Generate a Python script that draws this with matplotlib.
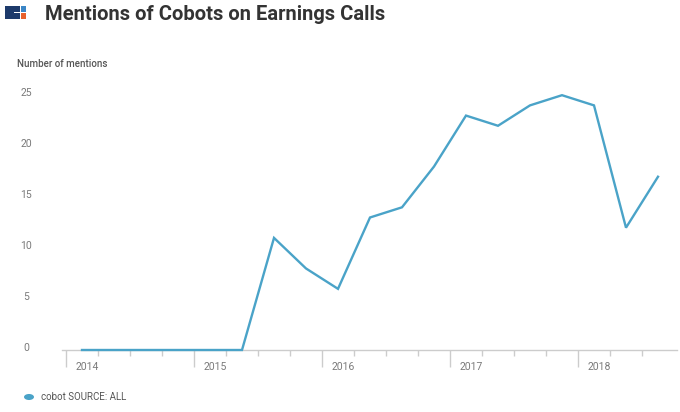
import numpy as np
import matplotlib
matplotlib.use('Agg')
import matplotlib.pyplot as plt
import matplotlib.patches as mpatches
import matplotlib.transforms as mtransforms

plt.rcParams['font.family'] = ['Roboto', 'DejaVu Sans']

# quarterly mentions, 2014 Q1 .. 2018 Q3
quarters = ['2014Q1', '2014Q2', '2014Q3', '2014Q4',
            '2015Q1', '2015Q2', '2015Q3', '2015Q4',
            '2016Q1', '2016Q2', '2016Q3', '2016Q4',
            '2017Q1', '2017Q2', '2017Q3', '2017Q4',
            '2018Q1', '2018Q2', '2018Q3']
mentions = [0, 0, 0, 0, 0, 0, 11, 8, 6, 13, 14, 18, 23, 22, 24, 25, 24, 12, 17]
years = [2014, 2015, 2016, 2017, 2018]
yticks = [0, 5, 10, 15, 20, 25]

line_color = '#4aa3c8'
grey = '#7a7a7a'
tick_grey = '#cccccc'

# mid-quarter position in fractional years
xpos = [int(q[:4]) + (int(q[-1]) - 1) * 0.25 + 0.125 for q in quarters]

fig = plt.figure(figsize=(6.8, 4.12), dpi=100)
W, H = 680., 412.
ax = fig.add_axes([62 / W, 1 - 350 / H, (677 - 62) / W, (350 - 85) / H])

ax.plot(xpos, mentions, color=line_color, lw=1.7, clip_on=False, zorder=3,
        solid_joinstyle='miter')

ax.set_xlim(2014 - 4 / 128., 2014 + (677 - 66) / 128.)
ax.set_ylim(0, 26)

for s in ['top', 'right', 'left']:
    ax.spines[s].set_visible(False)
ax.spines['bottom'].set_color(tick_grey)
ax.spines['bottom'].set_linewidth(1.0)

ax.set_yticks(yticks)
ax.set_yticklabels([str(v) for v in yticks])
ax.tick_params(axis='y', length=0, pad=26, labelcolor=grey, labelsize=7.5)
shift = mtransforms.ScaledTranslation(0, 3 / 100., fig.dpi_scale_trans)
for lab in ax.get_yticklabels():
    lab.set_ha('center')
    lab.set_transform(lab.get_transform() + shift)

ax.set_xticks(years)
ax.set_xticklabels([])
minor = [y + q * 0.25 for y in range(2014, 2019) for q in (1, 2, 3)]
minor = [m for m in minor if m < 2018.6]
ax.set_xticks(minor, minor=True)
ax.tick_params(axis='x', which='major', length=12, width=1, color=tick_grey)
ax.tick_params(axis='x', which='minor', length=4, width=1, color=tick_grey)

for yr in years:
    ax.annotate(str(yr), xy=(yr, 0), xycoords=('data', 'axes fraction'),
                xytext=(7, -12), textcoords='offset points',
                ha='left', va='center', fontsize=7.5, color=grey)

# title and logo
fig.text(45 / W, 1 - 14 / H, 'Mentions of Cobots on Earnings Calls',
         fontsize=14.5, fontweight='bold', color='#333333', va='center', ha='left')

def px_rect(x0, y0, x1, y1, color):
    fig.patches.append(mpatches.Rectangle((x0 / W, 1 - y1 / H), (x1 - x0) / W, (y1 - y0) / H,
                                          transform=fig.transFigure, color=color, lw=0))

px_rect(5, 6, 19.5, 19, '#1d3a6b')
px_rect(14, 12, 19.5, 13.2, 'white')
px_rect(20.5, 6, 26, 12, '#3b86c6')
px_rect(20.5, 13, 26, 19, '#e8612c')

fig.text(17 / W, 1 - 64 / H, 'Number of mentions', fontsize=7, color='#555555',
         va='center', ha='left', fontweight='medium')

# legend
fig.patches.append(mpatches.Circle((29 / W, 1 - 397 / H), 5 / W, transform=fig.transFigure,
                                   color=line_color, lw=0))
fig.text(41 / W, 1 - 397 / H, 'cobot SOURCE: ALL', fontsize=7, color='#555555',
         va='center', ha='left')

fig.savefig('out.png', dpi=100)
